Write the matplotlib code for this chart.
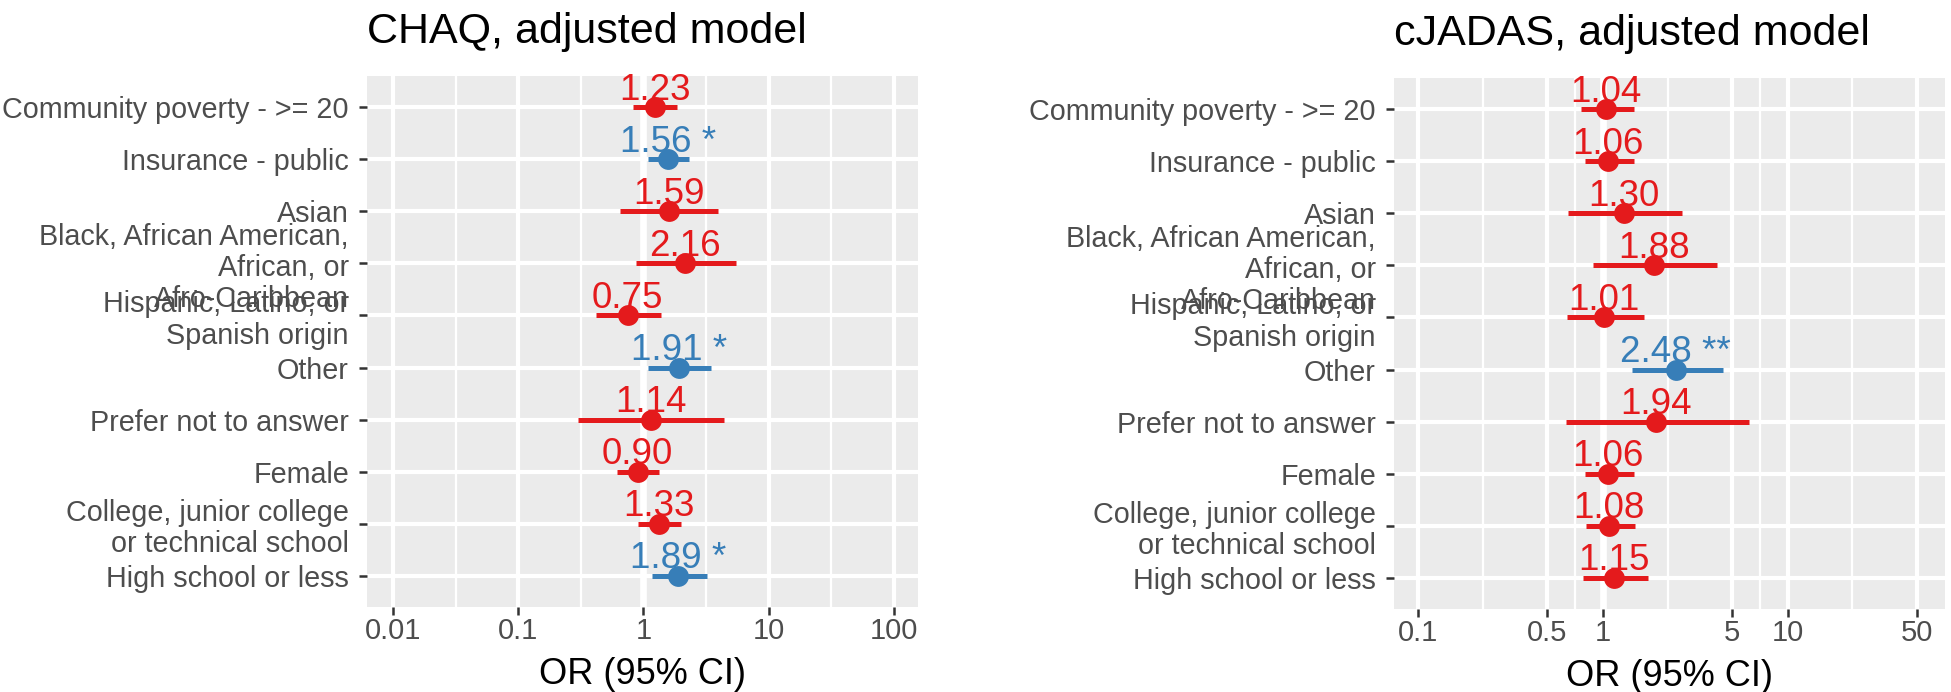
import matplotlib
matplotlib.use("Agg")
import matplotlib.pyplot as plt
from matplotlib.ticker import FixedLocator, NullFormatter
import numpy as np

plt.rcParams['font.family'] = ['Liberation Sans', 'DejaVu Sans']

# rows, top to bottom
labels = ["Community poverty - >= 20",
          "Insurance - public",
          "Asian",
          "Black, African American,\nAfrican, or\nAfro-Caribbean",
          "Hispanic, Latino, or\nSpanish origin",
          "Other",
          "Prefer not to answer",
          "Female",
          "College, junior college\nor technical school",
          "High school or less"]

# CHAQ, adjusted model
chaq_or = [1.23, 1.56, 1.59, 2.16, 0.75, 1.91, 1.14, 0.90, 1.33, 1.89]
chaq_lo = [0.82, 1.08, 0.65, 0.88, 0.42, 1.08, 0.30, 0.61, 0.90, 1.16]
chaq_hi = [1.87, 2.33, 3.91, 5.45, 1.39, 3.44, 4.37, 1.34, 2.01, 3.25]
chaq_sig = ["", "*", "", "", "", "*", "", "", "", "*"]

# cJADAS, adjusted model
cjadas_or = [1.04, 1.06, 1.30, 1.88, 1.01, 2.48, 1.94, 1.06, 1.08, 1.15]
cjadas_lo = [0.76, 0.80, 0.65, 0.88, 0.64, 1.44, 0.63, 0.80, 0.81, 0.78]
cjadas_hi = [1.47, 1.47, 2.67, 4.13, 1.67, 4.45, 6.15, 1.47, 1.49, 1.75]
cjadas_sig = ["", "", "", "", "", "**", "", "", "", ""]

chaq_breaks = [0.01, 0.1, 1, 10, 100]
chaq_break_labels = ["0.01", "0.1", "1", "10", "100"]
cjadas_breaks = [0.1, 0.5, 1, 5, 10, 50]
cjadas_break_labels = ["0.1", "0.5", "1", "5", "10", "50"]

RED = "#E41A1C"
BLUE = "#377EB8"
PANEL = "#EBEBEB"


# draw one forest panel
def ForestPanel(ax, title, ors, lo, hi, sig, breaks, break_labels, xlim):
    ax.set_facecolor(PANEL)
    ax.set_xscale('log')
    ypos = np.arange(len(labels))

    ax.axvline(1, color='white', lw=4.8, zorder=1)
    for i in range(len(labels)):
        col = BLUE if sig[i] else RED
        ax.plot([lo[i], hi[i]], [ypos[i], ypos[i]], color=col, lw=3.6,
                solid_capstyle='butt', zorder=3)
        ax.plot([ors[i]], [ypos[i]], 'o', color=col, ms=15, mew=0, zorder=4)
        txt = "%.2f" % ors[i]
        if sig[i]:
            txt = txt + " " + sig[i]
        ax.text(ors[i], ypos[i] - 0.14, txt, color=col, fontsize=26.5,
                ha='center', va='baseline', zorder=5)

    ax.set_xlim(xlim)
    ax.set_ylim(len(labels) - 0.4, -0.6)
    ax.set_yticks(ypos)
    ax.set_yticklabels(labels, linespacing=1.15, fontsize=20.7)
    ax.set_xticks(breaks)
    ax.set_xticklabels(break_labels)
    lb = np.log10(breaks)
    mids = 10 ** ((lb[:-1] + lb[1:]) / 2)
    ax.xaxis.set_minor_locator(FixedLocator(mids))
    ax.xaxis.set_minor_formatter(NullFormatter())

    ax.grid(True, which='major', color='white', lw=3.0)
    ax.grid(True, which='minor', axis='x', color='white', lw=1.6)
    ax.set_axisbelow(True)
    for s in ax.spines.values():
        s.set_visible(False)
    ax.tick_params(axis='both', which='major', length=6, width=1.8,
                   color='#333333', labelcolor='#4D4D4D')
    ax.tick_params(axis='x', labelsize=21, pad=1)
    ax.tick_params(axis='y', pad=7)
    ax.tick_params(axis='x', which='minor', length=0)

    ax.set_xlabel("OR (95% CI)", fontsize=26, color='black', labelpad=9)
    ax.set_title(title, loc='left', fontsize=31, color='black', pad=24)


fig = plt.figure(figsize=(19.51, 6.92), dpi=100)
ax1 = fig.add_axes([367 / 1951, 1 - 607 / 692, 551 / 1951, 531 / 692])
ax2 = fig.add_axes([1394 / 1951, 1 - 609 / 692, 551 / 1951, 531 / 692])

ForestPanel(ax1, "CHAQ, adjusted model", chaq_or, chaq_lo, chaq_hi, chaq_sig,
            chaq_breaks, chaq_break_labels, (10 ** -2.21, 10 ** 2.195))
ForestPanel(ax2, "cJADAS, adjusted model", cjadas_or, cjadas_lo, cjadas_hi, cjadas_sig,
            cjadas_breaks, cjadas_break_labels, (10 ** -1.13, 10 ** 1.85))

fig.savefig("out.png", dpi=100)
